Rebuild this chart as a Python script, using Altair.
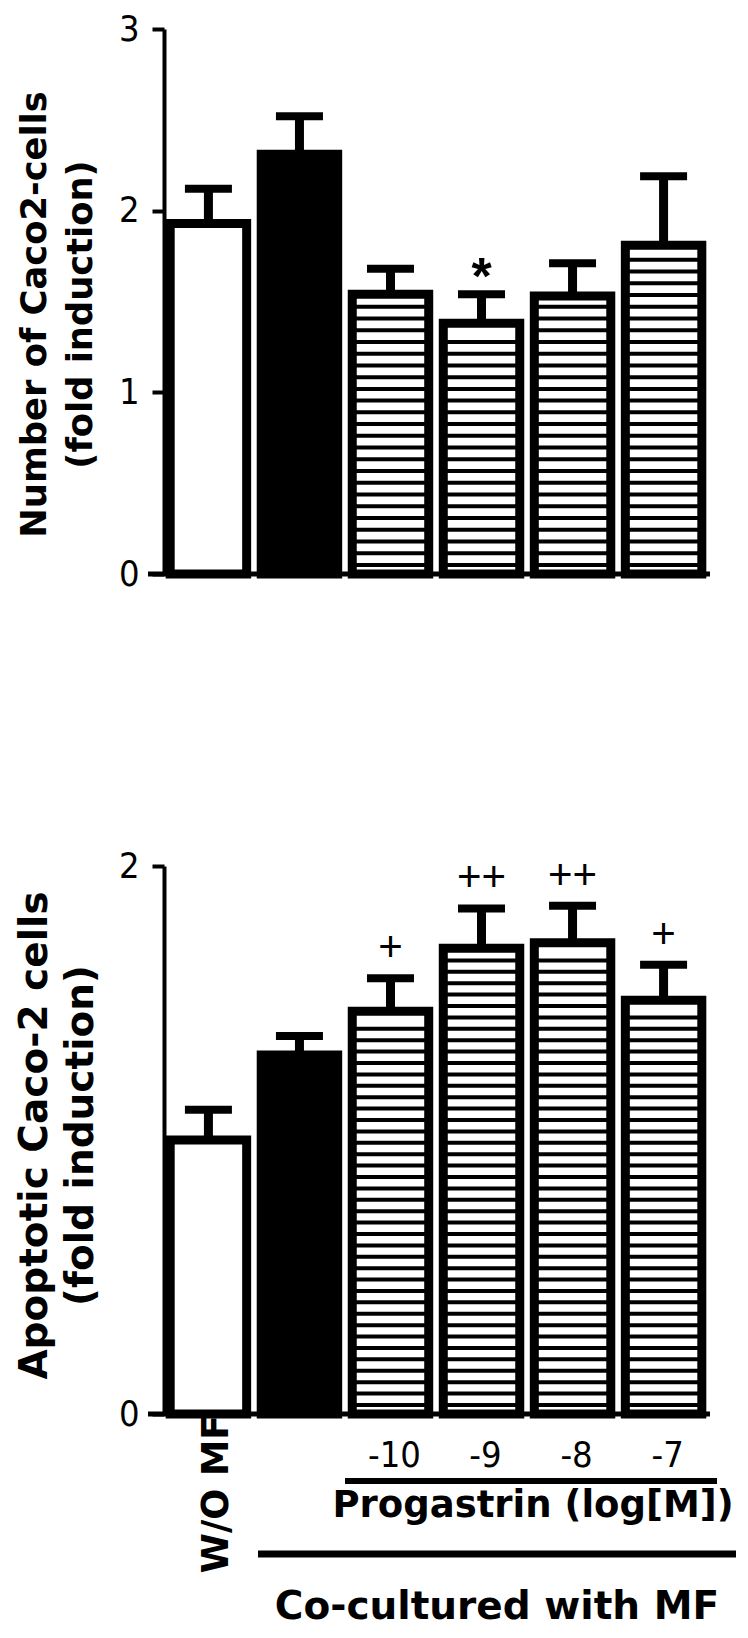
import json
import altair as alt
import pandas as pd

# ---- data ----
cats = ["W/O MF", "MF", "-10", "-9", "-8", "-7"]
hatched = ["-10", "-9", "-8", "-7"]
filled = ["MF"]

top_mean = [1.93, 2.31, 1.54, 1.38, 1.53, 1.81]
top_sem = [0.19, 0.21, 0.14, 0.16, 0.18, 0.38]
top_sig = ["", "", "", "*", "", ""]
top_ticks = [0, 1, 2, 3]
top_title = ["Number of Caco2-cells", "(fold induction)"]

bot_mean = [1.00, 1.31, 1.47, 1.70, 1.72, 1.51]
bot_sem = [0.11, 0.07, 0.12, 0.145, 0.135, 0.13]
bot_sig = ["", "", "+", "++", "++", "+"]
bot_ticks = [0, 1, 2]
bot_title = ["Apoptotic Caco-2 cells", "(fold induction)"]

group_labels = ["Progastrin (log[M])", "Co-cultured with MF"]

# ---- styling ----
W = 544
NARROW = "Liberation Sans Narrow, DejaVu Sans Condensed, sans-serif"
BOLD = "DejaVu Sans"
PLAIN = "Liberation Sans, Arial, sans-serif"


def panel(mean, sem, sig, ymax, ticks, title, height, title_size, title_y,
          step, start, margin, sig_font, sig_size, sig_weight, sig_dy, bottom):
    df = pd.DataFrame({"cat": cats, "mean": mean, "sem": sem, "sig": sig})
    xs = alt.Scale(domain=cats, paddingInner=0.16, paddingOuter=0.068)
    ys = alt.Scale(domain=[0, ymax], nice=False, zero=True)

    if bottom:
        xaxis = alt.Axis(
            domain=False, ticks=False, title=None, labelAngle=0,
            labelFont=NARROW, labelFontSize=36, labelColor="black",
            labelPadding=24, labelBaseline="top", labelOffset=4,
            labelExpr=f"indexof({json.dumps(hatched)}, datum.value) >= 0 ? datum.value : ''",
        )
    else:
        xaxis = None

    yaxis = alt.Axis(
        values=ticks, grid=False, format="d",
        domainWidth=4, domainColor="black",
        tickWidth=4, tickColor="black", tickSize=12,
        labelFont=NARROW, labelFontSize=36, labelColor="black", labelPadding=13,
        title=title, titleFont=BOLD, titleFontSize=title_size, titleFontWeight="bold",
        titleColor="black", titleLineHeight=46, titleX=-130, titleY=title_y,
        titleBaseline="middle", titleAlign="center", titleAngle=270,
    )

    X = alt.X("cat:N", scale=xs, sort=cats, axis=xaxis)

    def Y(field):
        return alt.Y(field, scale=ys, axis=yaxis)

    base = alt.Chart(df)

    bars = base.mark_bar(stroke="black", strokeWidth=9).encode(
        x=X,
        y=Y("mean:Q"),
        fill=alt.condition(
            f"indexof({json.dumps(filled)}, datum.cat) >= 0",
            alt.value("black"), alt.value("white")),
    )

    fold_fields = [f"h{i}" for i in range(len(hatched))]
    stripes = (
        alt.Chart(alt.sequence(start=start, stop=ymax, step=step, as_="s"))
        .transform_calculate(**{f: "datum.s" for f in fold_fields})
        .transform_fold(fold_fields, as_=["k", "v"])
        .transform_calculate(cat=f"{json.dumps(hatched)}[toNumber(substring(datum.k, 1))]")
        .transform_lookup(lookup="cat", from_=alt.LookupData(data=df, key="cat", fields=["mean"]))
        .transform_filter(f"datum.s < datum.mean - {margin}")
        .mark_tick(color="black", thickness=4, size=76, opacity=1)
        .encode(x=X, y=Y("s:Q"))
    )

    err = base.transform_calculate(upper="datum.mean + datum.sem")
    stems = err.mark_rule(color="black", strokeWidth=9).encode(
        x=X, y=Y("mean:Q"), y2="upper:Q")
    caps = err.mark_tick(color="black", thickness=8, size=47, opacity=1).encode(
        x=X, y=Y("upper:Q"))
    marks = err.mark_text(font=sig_font, fontSize=sig_size, fontWeight=sig_weight,
                          baseline="alphabetic", dy=sig_dy, color="black").encode(
        x=X, y=Y("upper:Q"), text="sig:N")

    one = pd.DataFrame({"k": [0]})
    baseline = alt.Chart(one).mark_rule(color="black", strokeWidth=5).encode(
        x=alt.value(-16), x2=alt.value(W + 2), y=Y("k:Q"))

    layers = [stems, bars, stripes, caps, marks, baseline]

    if bottom:
        line1 = alt.Chart(one).mark_rule(color="black", strokeWidth=6).encode(
            x=alt.value(181), x2=alt.value(553), y=alt.value(615))
        line2 = alt.Chart(one).mark_rule(color="black", strokeWidth=7).encode(
            x=alt.value(94), x2=alt.value(572), y=alt.value(688))
        prog = alt.Chart(one).mark_text(font=BOLD, fontSize=37, fontWeight="bold",
                                        baseline="middle", color="black").encode(
            x=alt.value(369), y=alt.value(640), text=alt.value(group_labels[0]))
        cocult = alt.Chart(one).mark_text(font=BOLD, fontSize=39, fontWeight="bold",
                                          baseline="middle", color="black").encode(
            x=alt.value(333), y=alt.value(741), text=alt.value(group_labels[1]))
        wo = alt.Chart(pd.DataFrame({"cat": [cats[0]]})).mark_text(
            font=BOLD, fontSize=36.5, fontWeight="bold", angle=270, dy=9,
            baseline="middle", align="center", color="black").encode(
            x=X, y=alt.value(628), text="cat:N")
        layers += [line1, line2, prog, cocult, wo]

    return alt.layer(*layers).properties(width=W, height=height)


top = panel(top_mean, top_sem, top_sig, 3, top_ticks, top_title, 545, 35.3, 285,
            0.0646, 0.05, 0.05, "Liberation Sans", 52, "bold", 0, False)
bot = panel(bot_mean, bot_sem, bot_sig, 2, bot_ticks, bot_title, 548, 39, 269,
            0.0416, 0.033, 0.033, PLAIN, 42, "normal", -17, True)

chart = (
    alt.vconcat(top, bot, spacing=256)
    .properties(padding={"left": 6, "top": 3, "right": 0, "bottom": 0},
                background="white")
    .configure_view(strokeWidth=0, stroke="transparent")
)

chart.save("out.html", embed_options={"renderer": "svg", "actions": False})
